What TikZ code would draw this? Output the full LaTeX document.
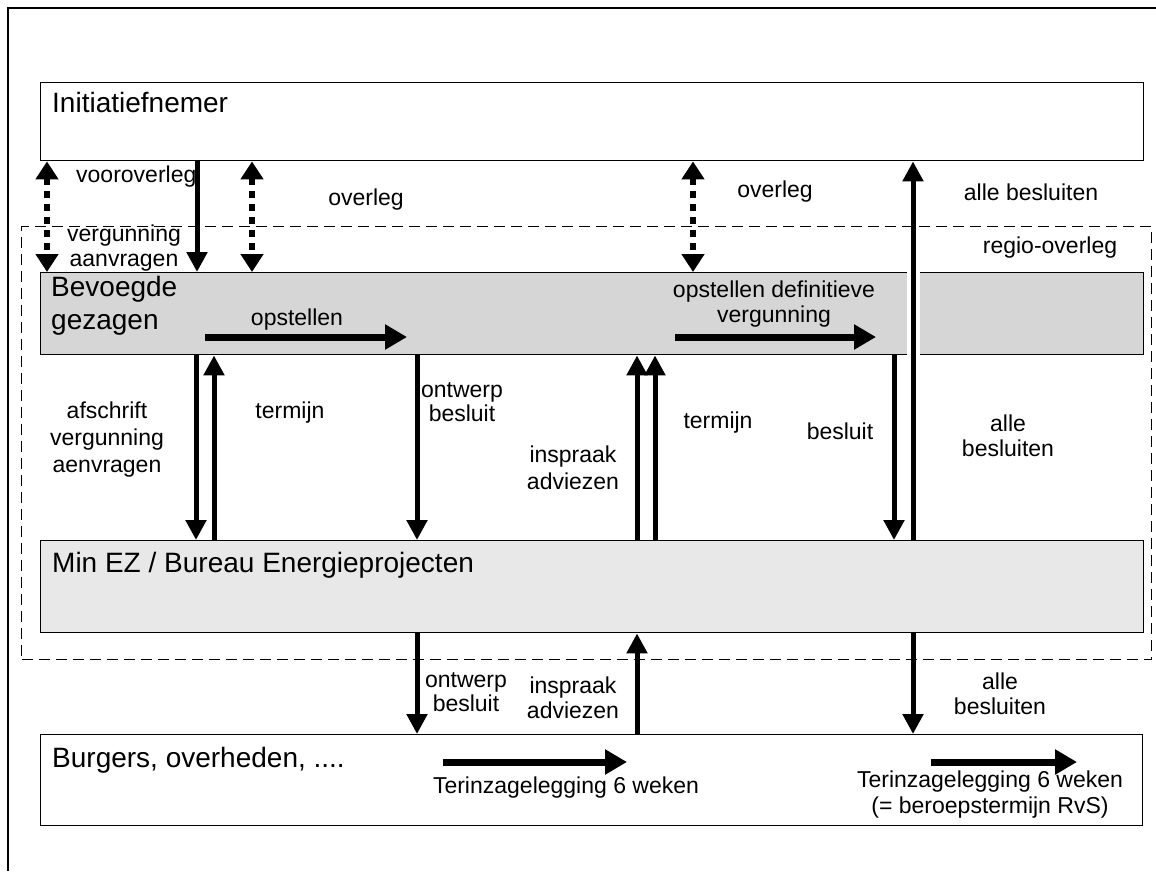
\documentclass[tikz,border=0pt]{standalone}
\usepackage{fontspec}
\setmainfont{Liberation Sans}
\usetikzlibrary{arrows.meta}
\definecolor{bevgray}{RGB}{214,214,214}
\definecolor{ezgray}{RGB}{232,232,232}
\begin{document}
\begin{tikzpicture}[x=1pt,y=-1pt,
  box/.style={draw=black,line width=1.4pt,inner sep=0pt,anchor=north west},
  big/.style={font=\fontsize{28}{33}\selectfont,inner sep=0pt,anchor=base west},
  lbl/.style={font=\fontsize{23}{25}\selectfont,inner sep=0pt,align=center},
  varrow/.style={line width=5pt,-{Triangle[width=20pt,length=20pt]}},
  harrow/.style={line width=7pt,-{Triangle[width=24pt,length=22pt]}},
  dblarrow/.style={line width=6pt,dash pattern=on 7pt off 6pt,
    {Triangle[width=22pt,length=18pt]}-{Triangle[width=22pt,length=18pt]}},
  region/.style={draw=black,line width=1.2pt,dash pattern=on 11pt off 6pt,inner sep=0pt,anchor=north west},
]
\useasboundingbox (0,0) rectangle (1156,871);
% outer frame
\draw[line width=1.5pt] (1156,8) -- (8,8) -- (8,871);

% dashed region
\node[region,minimum width=1130pt,minimum height=433pt] (reg) at (21,226) {};

% boxes
\node[box,fill=white,minimum width=1103pt,minimum height=78pt] (ini) at (40,82) {};
\node[box,fill=bevgray,minimum width=1103pt,minimum height=82pt] (bev) at (40,272) {};
\node[box,fill=ezgray,minimum width=1103pt,minimum height=92pt] (ez) at (40,540) {};
\node[box,fill=white,minimum width=1102pt,minimum height=91pt] (bur) at (40,734) {};

% box titles
\node[big] (iniT) at (52,112) {Initiatiefnemer};
\node[big,align=left,anchor=north west] (bevT) at (51,276) {Bevoegde\\gezagen};
\node[big] (ezT) at (52,572) {Min EZ / Bureau Energieprojecten};
\node[big] (burT) at (52,767) {Burgers, overheden, ....};

% coordinates for vertical connectors
\foreach \n/\x in {a/47,b/197,c/252,d/693,e/913,f/196,g/214,h/417,i/637,j/655,k/894}
  \coordinate (x\n) at (\x,0);

% Initiatiefnemer <-> Bevoegde gezagen
\draw[dblarrow] (ini.south -| xa) -- (bev.north -| xa);
\draw[varrow] (ini.south -| xb) -- (bev.north -| xb);
\draw[dblarrow] (ini.south -| xc) -- (bev.north -| xc);
\draw[dblarrow] (ini.south -| xd) -- (bev.north -| xd);

% Bevoegde gezagen <-> Min EZ
\draw[varrow] (bev.south -| xf) -- (ez.north -| xf);
\draw[varrow] (ez.north -| xg) -- (bev.south -| xg);
\draw[varrow] (bev.south -| xh) -- (ez.north -| xh);
\draw[varrow] (ez.north -| xi) -- (bev.south -| xi);
\draw[varrow] (ez.north -| xj) -- (bev.south -| xj);
\draw[varrow] (bev.south -| xk) -- (ez.north -| xk);

% alle besluiten (long arrow through Bevoegde gezagen)
\draw[white,line width=13pt] (bev.north -| xe) -- (bev.south -| xe);
\draw[varrow] (ez.north -| xe) -- (ini.south -| xe);

% Min EZ <-> Burgers
\draw[varrow] (ez.south -| xh) -- (bur.north -| xh);
\draw[varrow] (bur.north -| xi) -- (ez.south -| xi);
\draw[varrow] (ez.south -| xe) -- (bur.north -| xe);

% horizontal arrows
\coordinate (op1) at (205,337);  \coordinate (op2) at (407,337);
\coordinate (od1) at (675,337);  \coordinate (od2) at (876,337);
\coordinate (tz1) at (443,762);  \coordinate (tz2) at (627,762);
\coordinate (tr1) at (931,762);  \coordinate (tr2) at (1077,762);
\draw[harrow] (op1) -- (op2);
\draw[harrow] (od1) -- (od2);
\draw[harrow] (tz1) -- (tz2);
\draw[harrow] (tr1) -- (tr2);

% labels
\node[lbl,anchor=west] (l1) at (76,177) {vooroverleg};
\node[lbl] (l2) at (124,248) {vergunning\\aanvragen};
\node[lbl] (l3) at (366,200) {overleg};
\node[lbl] (l4) at (775,192) {overleg};
\node[lbl] (l5) at (1031,192) {alle besluiten};
\node[lbl] (l6) at (1050,248) {regio-overleg};
\node[lbl] (l7) at (297,320) {opstellen};
\node[lbl] (l8) at (774,304) {opstellen definitieve\\vergunning};
\node[lbl,font=\fontsize{23}{27}\selectfont] (l9) at (107,440) {afschrift\\vergunning\\aenvragen};
\node[lbl] (l10) at (290,413) {termijn};
\node[lbl,font=\fontsize{23}{24}\selectfont] (l11) at (462,402) {ontwerp\\besluit};
\node[lbl,font=\fontsize{23}{27}\selectfont] (l12) at (573,468) {inspraak\\adviezen};
\node[lbl] (l13) at (718,423) {termijn};
\node[lbl] (l14) at (840,431) {besluit};
\node[lbl] (l15) at (1008,436) {alle\\besluiten};
\node[lbl,font=\fontsize{23}{24}\selectfont] (l16) at (466,692) {ontwerp\\besluit};
\node[lbl] (l17) at (573,698) {inspraak\\adviezen};
\node[lbl] (l18) at (1000,694) {alle\\besluiten};
\node[lbl] (l19) at (566,788) {Terinzagelegging 6 weken};
\node[lbl,font=\fontsize{23}{26}\selectfont] (l20) at (990,795) {Terinzagelegging 6 weken\\(= beroepstermijn RvS)};
\end{tikzpicture}
\end{document}
